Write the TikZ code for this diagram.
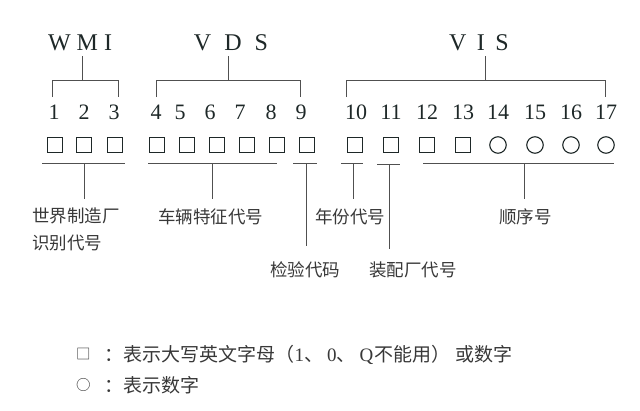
\documentclass[tikz,border=0pt]{standalone}
\usepackage{fontspec}
\setmainfont{Liberation Serif}
\newfontfamily\cjk{Noto Sans CJK SC}
\definecolor{ink}{HTML}{1E2828}
\definecolor{lbl}{HTML}{383838}
\definecolor{ln}{HTML}{505050}
\tikzset{
  grp/.style={inner sep=0pt, text=ink, font=\fontsize{24}{24}\selectfont},
  num/.style={inner sep=0pt, text=ink, font=\fontsize{22}{22}\selectfont},
  sq/.style={draw=ink, line width=1.1pt, minimum size=15.5pt, inner sep=0pt},
  circ/.style={draw=ink, line width=1.1pt, circle, minimum size=16.5pt, inner sep=0pt},
  lab/.style={inner sep=0pt, text=lbl, font=\cjk\fontsize{17.5}{27}\selectfont},
  leg/.style={inner sep=0pt, text=lbl, font=\cjk\fontsize{19}{19}\selectfont},
  conn/.style={draw=ln, line width=1pt},
}
\newcommand{\legsym}[1]{\raisebox{1.8pt}{\fontsize{14.5}{14.5}\selectfont #1}}
\newcommand{\latn}[1]{{\rmfamily #1}}
\begin{document}
\begin{tikzpicture}[x=1pt,y=-1pt]
\useasboundingbox (0,0) rectangle (640,410);
% group titles
\node[grp] (wmi) at (80,43) {W M I};
\node[grp] (vds) at (231,43) {V\hspace{13pt}D\hspace{13pt}S};
\node[grp] (vis) at (479,43) {V\hspace{10.5pt}I\hspace{10.5pt}S};
% digits
\foreach \i/\x in {1/54,2/84,3/114,4/156,5/180,6/210,7/240,8/271,9/301,10/356,11/391,12/427,13/463,14/498,15/535,16/571,17/606}
  \node[num] (n\i) at (\x,112) {\i};
% squares and circles
\foreach \i/\x in {1/55,2/84,3/115,4/157,5/187,6/217,7/247,8/277,9/307,10/355,11/391,12/427,13/463}
  \node[sq] (c\i) at (\x,145) {};
\foreach \i/\x in {14/498,15/535,16/571,17/606}
  \node[circ] (c\i) at (\x,145) {};
% top brackets
\coordinate (wmiS) at (82,56);   \coordinate (wmiM) at (82,80);
\coordinate (wmiL) at (52,80);   \coordinate (wmiR) at (118,80);
\coordinate (wmiLd) at (52,97);  \coordinate (wmiRd) at (118,97);
\coordinate (vdsS) at (228,56);  \coordinate (vdsM) at (228,80);
\coordinate (vdsL) at (156,80);  \coordinate (vdsR) at (300,80);
\coordinate (vdsLd) at (156,97); \coordinate (vdsRd) at (300,97);
\coordinate (visS) at (485,56);  \coordinate (visM) at (485,80);
\coordinate (visL) at (346,80);  \coordinate (visR) at (605,80);
\coordinate (visLd) at (346,97); \coordinate (visRd) at (605,97);
\draw[conn] (wmiS) -- (wmiM);
\draw[conn] (wmiLd) -- (wmiL) -- (wmiR) -- (wmiRd);
\draw[conn] (vdsS) -- (vdsM);
\draw[conn] (vdsLd) -- (vdsL) -- (vdsR) -- (vdsRd);
\draw[conn] (visS) -- (visM);
\draw[conn] (visLd) -- (visL) -- (visR) -- (visRd);
% labels
\node[lab, anchor=north west, align=left] (lwmi) at (32,208) {世界制造厂\\识别代号};
\node[lab] (lvds) at (210.5,217) {车辆特征代号};
\node[lab] (lchk) at (305,270) {检验代码};
\node[lab] (lyr) at (350,217) {年份代号};
\node[lab] (lasm) at (413,270) {装配厂代号};
\node[lab] (lseq) at (525.5,217) {顺序号};
% underlines and stems
\coordinate (u1a) at (42,163);  \coordinate (u1b) at (125,163);
\coordinate (u1m) at (84,163);  \coordinate (u1e) at (84,199);
\coordinate (u2a) at (148,163); \coordinate (u2b) at (277,163);
\coordinate (u2m) at (212,163); \coordinate (u2e) at (212,199);
\coordinate (u3a) at (293,163); \coordinate (u3b) at (317,163);
\coordinate (u3m) at (306,163); \coordinate (u3e) at (306,246);
\coordinate (u4a) at (341,163); \coordinate (u4b) at (363,163);
\coordinate (u4m) at (353,163); \coordinate (u4e) at (353,199);
\coordinate (u5a) at (377,164); \coordinate (u5b) at (400,164);
\coordinate (u5m) at (389,164); \coordinate (u5e) at (389,249);
\coordinate (u6a) at (423,163); \coordinate (u6b) at (614,163);
\coordinate (u6m) at (524,163); \coordinate (u6e) at (524,199);
\foreach \k in {1,...,6} {
  \draw[conn] (u\k a) -- (u\k b);
  \draw[conn] (u\k m) -- (u\k e);
}
% legend
\node[leg, anchor=west] (leg1) at (76,355) {\legsym{□}\hspace{14pt}：表示大写英文字母（\latn{1}、\hspace{4pt}\latn{0}、\hspace{4pt}\latn{Q}\hspace{1pt}不能用）\hspace{5pt}或数字};
\node[leg, anchor=west] (leg2) at (76,385) {\legsym{○}\hspace{14pt}：表示数字};
\end{tikzpicture}
\end{document}
